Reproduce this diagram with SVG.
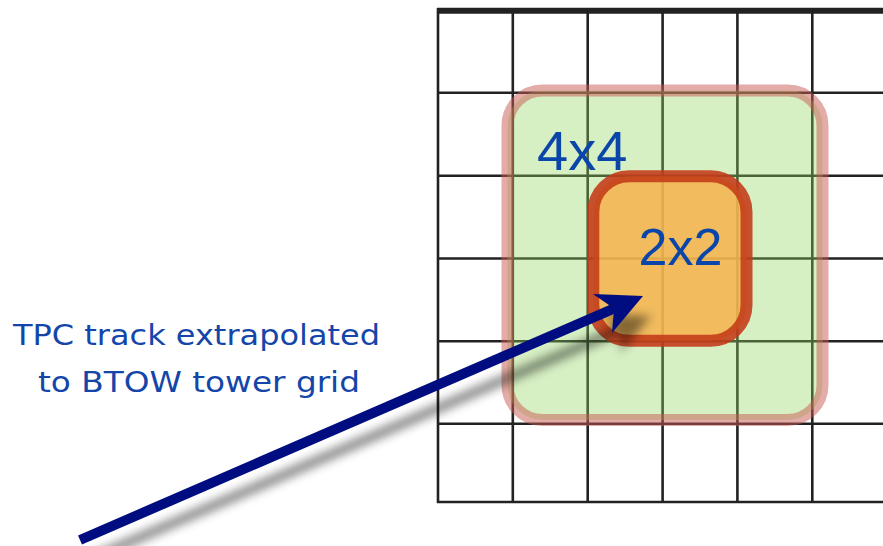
<svg xmlns="http://www.w3.org/2000/svg" width="883" height="546" viewBox="0 0 883 546">
<style>
.grid line{stroke:#222;stroke-width:2.6;}
.lbl{font-family:"DejaVu Sans","Liberation Sans",sans-serif;font-size:28px;fill:#1446aa;}
.big{font-family:"Liberation Sans",Arial,sans-serif;fill:#0a46aa;}
</style>
<defs>
<filter id="sh" x="-20%" y="-20%" width="140%" height="160%">
<feGaussianBlur in="SourceAlpha" stdDeviation="5"/>
<feOffset dx="8" dy="20" result="b"/>
<feFlood flood-color="#000" flood-opacity="0.45"/>
<feComposite in2="b" operator="in" result="s"/>
<feMerge><feMergeNode in="s"/><feMergeNode in="SourceGraphic"/></feMerge>
</filter>
</defs>
<rect width="883" height="546" fill="#fff"/>
<g id="grid" class="grid">
<line x1="437" y1="10.7" x2="883" y2="10.7" style="stroke-width:6"/>
<line x1="438" y1="92.7" x2="883" y2="92.7"/>
<line x1="438" y1="175.7" x2="883" y2="175.7"/>
<line x1="438" y1="258.5" x2="883" y2="258.5"/>
<line x1="438" y1="341.2" x2="883" y2="341.2"/>
<line x1="438" y1="423.8" x2="883" y2="423.8"/>
<line x1="437" y1="502" x2="883" y2="502"/>
<line x1="438" y1="8" x2="438" y2="503"/>
<line x1="512.8" y1="10" x2="512.8" y2="502"/>
<line x1="587.7" y1="10" x2="587.7" y2="502"/>
<line x1="662.6" y1="10" x2="662.6" y2="502"/>
<line x1="737.4" y1="10" x2="737.4" y2="502"/>
<line x1="812.3" y1="10" x2="812.3" y2="502"/>
</g>
<g id="box4x4">
<rect x="507.5" y="90.5" width="315" height="329.5" rx="35" ry="35" fill="rgb(145,212,91)" fill-opacity="0.37" stroke="rgb(201,89,81)" stroke-opacity="0.5" stroke-width="12"/>
<text class="big" x="537" y="170" font-size="56">4x4</text>
</g>
<g id="box2x2">
<rect x="593.3" y="176.3" width="153.2" height="164.5" rx="36" ry="36" fill="rgb(245,180,80)" fill-opacity="0.88" stroke="rgb(196,58,24)" stroke-opacity="0.88" stroke-width="12"/>
<text class="big" x="638.5" y="265" font-size="52">2x2</text>
</g>
<g id="label">
<text class="lbl" x="13" y="345" textLength="367" lengthAdjust="spacingAndGlyphs">TPC track extrapolated</text>
<text class="lbl" x="38" y="391.5" textLength="322" lengthAdjust="spacingAndGlyphs">to BTOW tower grid</text>
</g>
<g id="connectors" filter="url(#sh)">
<line x1="80" y1="540" x2="616" y2="307.6" stroke="#001080" stroke-width="10"/>
<polygon points="643,296 593,294 614,308.6 612,333" fill="#001080"/>
</g>
</svg>
